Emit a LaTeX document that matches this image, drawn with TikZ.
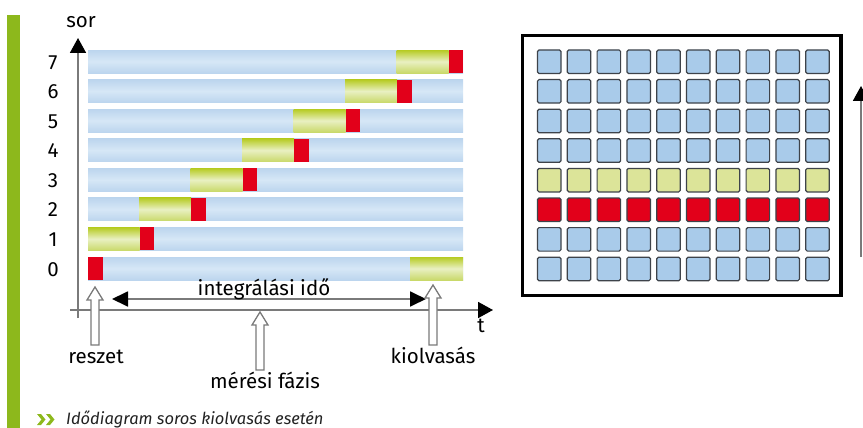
\documentclass[tikz,border=0pt]{standalone}
\usepackage{fontspec}
\setmainfont{Fira Sans}
\usetikzlibrary{arrows.meta}
\definecolor{accent}{HTML}{8DB81C}
\definecolor{bluedark}{HTML}{BCD5EE}
\definecolor{bluelight}{HTML}{D6E7F6}
\definecolor{greendark}{HTML}{B6CB22}
\definecolor{greenlight}{HTML}{E9F0C2}
\definecolor{greenbottom}{HTML}{C9D96A}
\definecolor{readred}{HTML}{E2001A}
\definecolor{cellblue}{HTML}{A9CBEA}
\definecolor{cellyellow}{HTML}{DCE499}
\definecolor{celledge}{HTML}{3E434A}
\definecolor{axisgray}{HTML}{7A7A7A}
\definecolor{captiongray}{HTML}{222222}
\tikzset{
  lbl/.style={font=\fontsize{20.5}{24}\selectfont, anchor=base, inner sep=0pt},
  digit/.style={lbl},
  axisline/.style={draw=axisgray, line width=1.8pt},
  tip/.style={-{Triangle[length=15pt,width=16pt,color=black]}},
  bothtips/.style={{Triangle[length=16pt,width=15pt,color=black]}-{Triangle[length=16pt,width=15pt,color=black]}},
  hollow/.style={draw=axisgray, fill=white, line width=1.3pt, line join=miter},
  bluebar/.style={top color=bluedark, bottom color=bluedark, middle color=bluelight},
  greenbar/.style={top color=greendark, bottom color=greenbottom, middle color=greenlight},
  cell/.style={draw=celledge, line width=1.2pt, rounded corners=1.5pt},
}
% upward hollow block arrow: x, tip y, foot y
\newcommand\blockarrow[3]{%
  \draw[hollow] (#1-4,#3) -- (#1-4,#2+13) -- (#1-8,#2+13) -- (#1,#2)
    -- (#1+8,#2+13) -- (#1+4,#2+13) -- (#1+4,#3) -- cycle;}
\begin{document}
\begin{tikzpicture}[x=1pt, y=-1pt]
\useasboundingbox (0,0) rectangle (863,428);

% side accent bar
\fill[accent] (7,15) rectangle (20,428);

% row bars: integration (blue), exposure (green), readout (red)
\foreach \k in {0,...,7} {
  \pgfmathsetmacro\top{257-29.57*\k}
  \pgfmathsetmacro\bot{\top+23}
  \pgfmathsetmacro\red{88+51.5*\k}
  \pgfmathsetmacro\grn{max(88,\red-52)}
  \shade[bluebar] (88,\top) rectangle (463,\bot);
  \ifnum\k>0
    \shade[greenbar] (\grn,\top) rectangle (\red,\bot);
  \fi
  \fill[readred] (\red,\top) rectangle (\red+14.5,\bot);
  \node[digit] (r\k) at (53,\top+19) {\k};
}
\shade[greenbar] (410,257) rectangle (463,280);

% axes
\draw[axisline, tip] (78,318) -- (78,38);
\node[lbl] (sor) at (81,28) {sor};
\draw[axisline, tip] (70,310) -- (493,310);
\node[lbl] (t) at (481,332) {t};

% integration time
\coordinate (intL) at (112,299);
\coordinate (intR) at (426,299);
\draw[axisline, bothtips] (intL) -- (intR);
\node[lbl] (integ) at (264,295) {integrálási idő};

% event markers
\blockarrow{95}{287}{345}
\blockarrow{260}{312}{370}
\blockarrow{433}{285}{345}
\node[lbl] (reset) at (96,363) {reszet};
\node[lbl] (meres) at (265,388) {mérési fázis};
\node[lbl] (kiolv) at (433,363) {kiolvasás};

% sensor array
\draw[line width=3.6pt] (522.5,35.5) rectangle (841,295.5);
\foreach \i in {0,...,7} {
  \foreach \j in {0,...,9} {
    \pgfmathsetmacro\cx{537.5+29.8*\j}
    \pgfmathsetmacro\cy{50+29.6*\i}
    \ifnum\i=4 \def\cellfill{cellyellow}\else
      \ifnum\i=5 \def\cellfill{readred}\else \def\cellfill{cellblue}\fi\fi
    \filldraw[cell, fill=\cellfill] (\cx,\cy) rectangle (\cx+23.5,\cy+23.5);
  }
}
\draw[axisline, tip] (861,257) -- (861,86);

% caption
\fill[accent] (37,414) -- (41,414) -- (45.5,419.5) -- (41,425) -- (37,425) -- (41.5,419.5) -- cycle;
\fill[accent] (46,414) -- (50,414) -- (54.5,419.5) -- (50,425) -- (46,425) -- (50.5,419.5) -- cycle;
\node[anchor=base west, inner sep=0pt, text=captiongray,
  font=\fontsize{16.5}{19}\selectfont\itshape] (caption) at (66,424) {Idődiagram soros kiolvasás esetén};
\end{tikzpicture}
\end{document}
